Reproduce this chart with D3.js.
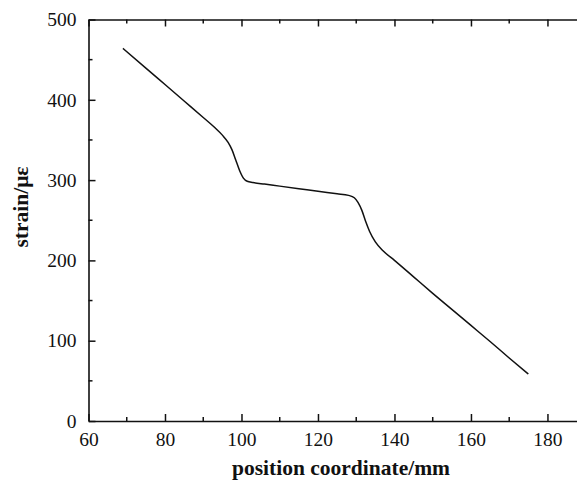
<!DOCTYPE html>
<html>
<head>
<meta charset="utf-8">
<script src="https://cdn.jsdelivr.net/npm/d3@7"></script>
<style>
  html, body { margin: 0; padding: 0; background: #fff; }
  svg { display: block; }
</style>
</head>
<body>
<svg id="chart" width="577" height="485"></svg>
<script>
// Strain distribution along the specimen
const positionMm = [69, 75, 80, 85, 90, 93, 95, 96.5, 97.5, 98.5, 99.5, 100.5, 101.5, 103, 106, 110,
  115, 120, 125, 128, 129.5, 130.5, 131.5, 132.5, 133.5, 135, 137, 140, 145, 150, 155, 160, 165, 170, 175];
const strainUe = [464, 439.5, 419, 398.5, 378, 365.5, 356, 347, 338, 325, 312, 302.5, 298.5, 297, 295, 292.5,
  289.3, 286, 283, 281, 278, 272, 262, 248, 236, 223, 212, 200, 179.5, 159, 139, 119, 99, 78.5, 58.5];

const xTicks = [60, 80, 100, 120, 140, 160, 180];
const xMinorTicks = [70, 90, 110, 130, 150, 170, 190];
const yTicks = [0, 100, 200, 300, 400, 500];
const yMinorTicks = [50, 150, 250, 350, 450];

const svg = d3.select("#chart");
const plotLeft = 88.5, plotRight = 585.7, plotTop = 19.5, plotBottom = 421;
const serif = "'Liberation Serif', 'Times New Roman', serif";

const x = d3.scaleLinear().domain([60, 190]).range([plotLeft, plotRight]);
const y = d3.scaleLinear().domain([0, 500]).range([plotBottom, plotTop]);

const axisColor = "#111";
const fontSize = 19.5;

function styleAxis(g) {
  g.attr("font-family", serif).attr("font-size", fontSize);
  g.select(".domain").attr("stroke", axisColor).attr("stroke-width", 1.6);
  g.selectAll(".tick line").attr("stroke", axisColor).attr("stroke-width", 1.5);
  g.selectAll(".tick text").attr("fill", "#111")
    .attr("font-family", serif).attr("font-size", fontSize);
}

// bottom axis, ticks pointing inward
const gx = svg.append("g").attr("transform", `translate(0,${plotBottom})`)
  .call(d3.axisBottom(x).tickValues(xTicks).tickSize(-7).tickPadding(11).tickFormat(d3.format("d")).tickSizeOuter(0));
styleAxis(gx);
gx.append("g").selectAll("line").data(xMinorTicks).join("line")
  .attr("x1", d => x(d)).attr("x2", d => x(d)).attr("y1", 0).attr("y2", -4)
  .attr("stroke", axisColor).attr("stroke-width", 1.5);

// top mirror axis
const gxt = svg.append("g").attr("transform", `translate(0,${plotTop})`)
  .call(d3.axisTop(x).tickValues(xTicks).tickSize(-7).tickFormat("").tickSizeOuter(0));
styleAxis(gxt);
gxt.append("g").selectAll("line").data(xMinorTicks).join("line")
  .attr("x1", d => x(d)).attr("x2", d => x(d)).attr("y1", 0).attr("y2", 4)
  .attr("stroke", axisColor).attr("stroke-width", 1.5);

// left axis
const gy = svg.append("g").attr("transform", `translate(${plotLeft},0)`)
  .call(d3.axisLeft(y).tickValues(yTicks).tickSize(-7).tickPadding(12).tickFormat(d3.format("d")).tickSizeOuter(0));
styleAxis(gy);
gy.append("g").selectAll("line").data(yMinorTicks).join("line")
  .attr("y1", d => y(d)).attr("y2", d => y(d)).attr("x1", 0).attr("x2", 4)
  .attr("stroke", axisColor).attr("stroke-width", 1.5);

// strain curve
const line = d3.line().x((d, i) => x(positionMm[i])).y((d, i) => y(strainUe[i])).curve(d3.curveMonotoneX);
svg.append("path").datum(strainUe)
  .attr("d", line)
  .attr("fill", "none")
  .attr("stroke", "#111")
  .attr("stroke-width", 1.5);

// axis titles
svg.append("text")
  .attr("x", 341).attr("y", 475)
  .attr("text-anchor", "middle")
  .attr("font-family", serif)
  .attr("font-weight", "bold").attr("font-size", 21.5).attr("fill", "#111")
  .text("position coordinate/mm");

svg.append("text")
  .attr("transform", "translate(28,207) rotate(-90)")
  .attr("text-anchor", "middle")
  .attr("font-family", serif)
  .attr("font-weight", "bold").attr("font-size", 21.5).attr("fill", "#111")
  .text("strain/με");
</script>
</body>
</html>
